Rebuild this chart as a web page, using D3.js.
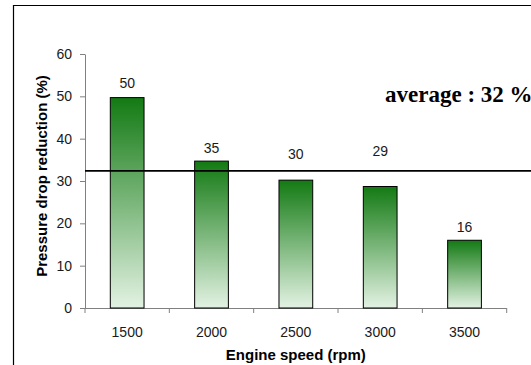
<!DOCTYPE html>
<html>
<head>
<meta charset="utf-8">
<script src="https://cdn.jsdelivr.net/npm/d3@7"></script>
<style>
  html, body { margin: 0; padding: 0; background: #fff; }
  svg { display: block; }
</style>
</head>
<body>
<script>
// ---- data ----
const categories = ["1500", "2000", "2500", "3000", "3500"];
const values = [49.7, 34.7, 30.2, 28.7, 16.0];
const labelPos = [52.0, 36.6, 35.2, 35.8, 18.0];
const yTicks = [0, 10, 20, 30, 40, 50, 60];
const averageLine = 32.4;
const averageText = "average : 32 %";
const xTitle = "Engine speed (rpm)";
const yTitle = "Pressure drop reduction (%)";

const W = 531, H = 365;
const svg = d3.select("body").append("svg").attr("width", W).attr("height", H);

// frame (extends past the window)
svg.append("path")
  .attr("d", "M13.5,370V5.5H540")
  .attr("fill", "none").attr("stroke", "#000").attr("stroke-width", 1.2);

const x = d3.scaleBand().domain(categories).range([85, 506.7]).padding(0);
const y = d3.scaleLinear().domain([0, 60]).range([308, 54]);

const defs = svg.append("defs");
const grad = defs.append("linearGradient").attr("id", "g")
  .attr("x1", 0).attr("y1", 0).attr("x2", 0).attr("y2", 1);
grad.append("stop").attr("offset", "0%").attr("stop-color", "#137a13");
grad.append("stop").attr("offset", "100%").attr("stop-color", "#e3f2e3");

// Y axis
const yAxis = svg.append("g").attr("transform", "translate(85,0)")
  .call(d3.axisLeft(y).tickValues(yTicks).tickSize(5).tickSizeOuter(0).tickPadding(8));
yAxis.selectAll("path, line").attr("stroke", "#808080");
yAxis.selectAll("text").attr("font-family", "Liberation Sans, Arial, sans-serif")
  .attr("font-size", 14).attr("fill", "#1a1a1a");

// X axis: line + boundary ticks + centered labels
const xAxis = svg.append("g").attr("transform", "translate(0,308)");
const xr = x.range();
xAxis.append("line").attr("x1", xr[0]).attr("x2", xr[1]).attr("y1", 0.5).attr("y2", 0.5)
  .attr("stroke", "#808080");
const bounds = categories.map(c => x(c)).concat([x(categories[categories.length - 1]) + x.bandwidth()]);
xAxis.selectAll("line.tk").data(bounds).join("line").attr("class", "tk")
  .attr("x1", d => d).attr("x2", d => d).attr("y1", 0).attr("y2", 5)
  .attr("stroke", "#808080");
xAxis.selectAll("text").data(categories).join("text")
  .attr("x", d => x(d) + x.bandwidth() / 2).attr("y", 29)
  .attr("text-anchor", "middle")
  .attr("font-family", "Liberation Sans, Arial, sans-serif")
  .attr("font-size", 14).attr("fill", "#1a1a1a")
  .text(d => d);

// bars
const bw = x.bandwidth() * 0.4;
svg.selectAll("rect.bar").data(values).join("rect").attr("class", "bar")
  .attr("x", (d, i) => x(categories[i]) + (x.bandwidth() - bw) / 2)
  .attr("y", d => y(d))
  .attr("width", bw)
  .attr("height", d => y(0) - y(d))
  .attr("fill", "url(#g)")
  .attr("stroke", "#000").attr("stroke-width", 1);

// value labels
svg.selectAll("text.val").data(values).join("text").attr("class", "val")
  .attr("x", (d, i) => x(categories[i]) + x.bandwidth() / 2)
  .attr("y", (d, i) => y(labelPos[i]))
  .attr("text-anchor", "middle")
  .attr("font-family", "Liberation Sans, Arial, sans-serif")
  .attr("font-size", 14).attr("fill", "#1a1a1a")
  .text(d => Math.round(d));

// average line
svg.append("line")
  .attr("x1", 85).attr("x2", W + 5)
  .attr("y1", y(averageLine)).attr("y2", y(averageLine))
  .attr("stroke", "#000").attr("stroke-width", 1.6);

svg.append("text")
  .attr("x", 385).attr("y", 102)
  .attr("font-family", "Liberation Serif, Times New Roman, serif")
  .attr("font-weight", "bold").attr("font-size", 23).attr("fill", "#000")
  .text(averageText);

// axis titles
svg.append("text")
  .attr("x", (xr[0] + xr[1]) / 2).attr("y", 360)
  .attr("text-anchor", "middle")
  .attr("font-family", "Liberation Sans, Arial, sans-serif")
  .attr("font-weight", "bold").attr("font-size", 15).attr("fill", "#000")
  .text(xTitle);

svg.append("text")
  .attr("transform", `translate(47,${(y(0) + y(60)) / 2 - 5}) rotate(-90)`)
  .attr("text-anchor", "middle")
  .attr("font-family", "Liberation Sans, Arial, sans-serif")
  .attr("font-weight", "bold").attr("font-size", 15).attr("fill", "#000")
  .text(yTitle);
</script>
</body>
</html>
